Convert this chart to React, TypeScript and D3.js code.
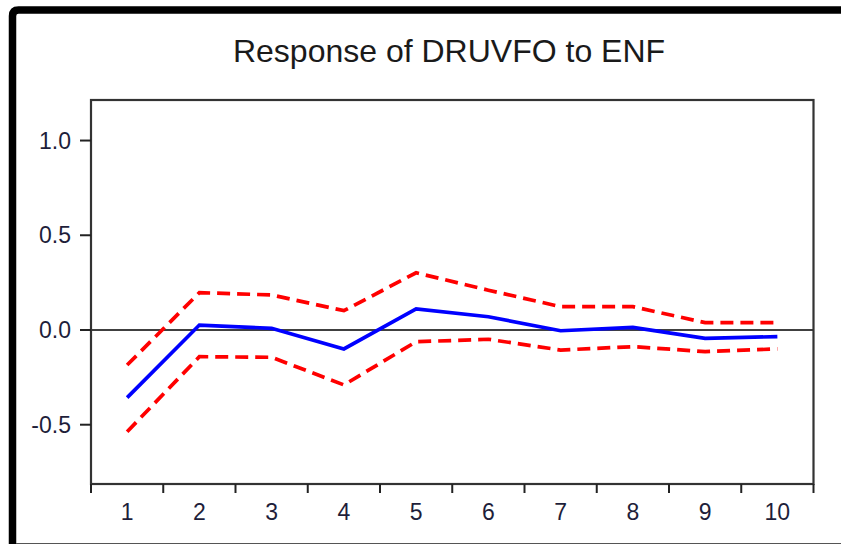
import React from "react";
import * as d3 from "d3";

const periods = [1, 2, 3, 4, 5, 6, 7, 8, 9, 10];
const response = [-0.357, 0.026, 0.009, -0.1, 0.111, 0.07, -0.004, 0.014, -0.044, -0.035];
const upperBand = [-0.185, 0.197, 0.185, 0.102, 0.302, 0.21, 0.123, 0.123, 0.039, 0.039];
const lowerBand = [-0.537, -0.141, -0.144, -0.29, -0.062, -0.049, -0.106, -0.088, -0.114, -0.1];
const yTicks = [-0.5, 0.0, 0.5, 1.0];
const title = "Response of DRUVFO to ENF";

const W = 841;
const H = 544;
const L = 91, R = 813.5, T = 100, B = 484;

export default function App() {
  const x = d3.scaleLinear().domain([0.5, 10.5]).range([L, R]);
  const y = d3.scaleLinear().domain([-0.813, 1.214]).range([B, T]);
  const line = d3
    .line<number>()
    .x((_, i) => x(periods[i]))
    .y((d) => y(d));
  const bounds = d3.range(0.5, 11, 1);
  const font = "'Liberation Sans', Arial, sans-serif";

  return (
    <svg
      width={W}
      height={H}
      style={{ position: "absolute", left: 0, top: 0, background: "#fff" }}
    >
      {/* outer frame */}
      <path
        d={`M12.5,${H + 20} L12.5,16 Q12.5,10 18.5,10 L${W + 20},10`}
        fill="none"
        stroke="#000"
        strokeWidth={7.5}
      />
      <line x1={16} x2={W} y1={543.5} y2={543.5} stroke="#555" strokeWidth={1} />

      <text
        x={449}
        y={62}
        textAnchor="middle"
        fontFamily={font}
        fontSize={32}
        fill="#1a1a1a"
      >
        {title}
      </text>

      {/* zero line */}
      <line x1={L} x2={R} y1={y(0)} y2={y(0)} stroke="#000" strokeWidth={1.5} />

      {/* plot frame */}
      <rect
        x={L}
        y={T}
        width={R - L}
        height={B - T}
        fill="none"
        stroke="#333"
        strokeWidth={2.2}
      />

      {/* y ticks */}
      {yTicks.map((t) => (
        <g key={t}>
          <line x1={80} x2={L} y1={y(t)} y2={y(t)} stroke="#222" strokeWidth={2} />
          <text
            x={71}
            y={y(t) + 8}
            textAnchor="end"
            fontFamily={font}
            fontSize={23}
            fill="#1e1e3a"
          >
            {t.toFixed(1)}
          </text>
        </g>
      ))}

      {/* x ticks */}
      {bounds.map((b) => (
        <line
          key={b}
          x1={x(b)}
          x2={x(b)}
          y1={B}
          y2={B + 9}
          stroke="#222"
          strokeWidth={2}
        />
      ))}
      {periods.map((p) => (
        <text
          key={p}
          x={x(p)}
          y={520}
          textAnchor="middle"
          fontFamily={font}
          fontSize={23}
          fill="#1e1e3a"
        >
          {p}
        </text>
      ))}

      <path
        d={line(upperBand) || ""}
        fill="none"
        stroke="#ff0000"
        strokeWidth={3.7}
        strokeDasharray="13 7"
      />
      <path
        d={line(lowerBand) || ""}
        fill="none"
        stroke="#ff0000"
        strokeWidth={3.7}
        strokeDasharray="13 7"
      />
      <path
        d={line(response) || ""}
        fill="none"
        stroke="#0000ff"
        strokeWidth={3.7}
      />
    </svg>
  );
}
